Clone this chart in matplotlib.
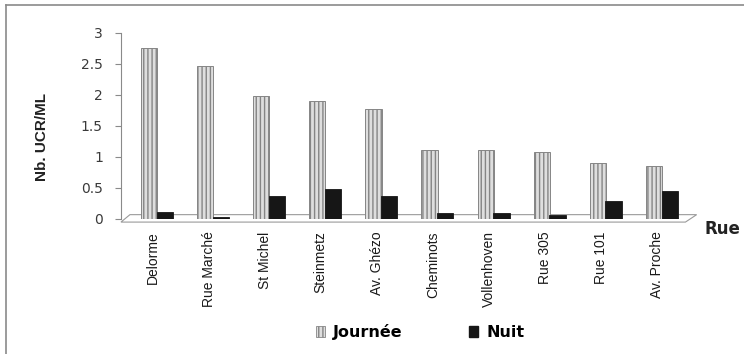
import matplotlib
matplotlib.use("Agg")
import matplotlib.pyplot as plt
from matplotlib.patches import Patch, Polygon
from matplotlib.lines import Line2D
import numpy as np

# data
rues = ["Delorme", "Rue Marché", "St Michel", "Steinmetz", "Av. Ghézo",
        "Cheminots", "Vollenhoven", "Rue 305", "Rue 101", "Av. Proche"]
journee = [2.76, 2.47, 1.98, 1.90, 1.78, 1.12, 1.11, 1.08, 0.90, 0.86]
nuit = [0.12, 0.04, 0.37, 0.49, 0.37, 0.10, 0.09, 0.06, 0.29, 0.45]
yticks = [0, 0.5, 1, 1.5, 2, 2.5, 3]
ytick_labels = ["0", "0.5", "1", "1.5", "2", "2.5", "3"]

fig = plt.figure(figsize=(7.44, 3.54), dpi=100)
ax = fig.add_axes([0.1626, 0.3814, 0.9341 - 0.1626, 0.9068 - 0.3814])

x = np.arange(len(rues))
w = 0.29
ax.bar(x - 0.14, journee, w, color="#dedede", edgecolor="#858585",
       hatch="||||", linewidth=0.7, zorder=3)
ax.bar(x + 0.14, nuit, w, color="#161616", edgecolor="#161616",
       linewidth=0.6, zorder=3)

ax.set_xlim(-0.64, 9.59)
ax.set_ylim(0, 3)

# floor of the pseudo 3d chart
floor = Polygon([(-0.64, -0.05), (9.42, -0.05), (9.62, 0.07), (-0.48, 0.07)],
                closed=True, fill=False, edgecolor="#9a9a9a", linewidth=0.8,
                clip_on=False, zorder=2)
ax.add_patch(floor)

for s in ["top", "right", "bottom"]:
    ax.spines[s].set_visible(False)
ax.spines["left"].set_color("#8a8a8a")
ax.spines["left"].set_linewidth(0.8)

ax.set_yticks(yticks)
ax.set_yticklabels(ytick_labels, fontsize=10, color="#3a3a3a")
ax.tick_params(axis="y", length=4, color="#8a8a8a", pad=9)
ax.set_xticks(x - 0.08)
ax.set_xticklabels(rues, rotation=90, fontsize=10, family="Liberation Sans",
                   color="#1a1a1a")
ax.tick_params(axis="x", length=0, pad=9)

ax.set_ylabel("Nb. UCR/ML", fontsize=11, fontweight="bold",
              family="Liberation Sans", color="#222222")
ax.yaxis.set_label_coords(-0.125, 0.44)

fig.text(704 / 744, 1 - 229 / 354, "Rue", fontsize=12, fontweight="bold",
         ha="left", va="center", color="#222222")

handles = [Patch(facecolor="#dedede", edgecolor="#858585", hatch="||||",
                 linewidth=0.6),
           Patch(facecolor="#161616", edgecolor="#161616")]
fig.legend(handles, ["Journée", "Nuit"], loc="center",
           bbox_to_anchor=(420 / 744, 1 - 332 / 354), ncol=2, frameon=False,
           handlelength=0.55, handleheight=0.7, handletextpad=0.5,
           columnspacing=4.2, prop={"size": 11.5, "weight": "semibold"})

# frame lines of the cropped screenshot
fig.add_artist(Line2D([6 / 744, 1], [1 - 5 / 354, 1 - 5 / 354],
                      color="#8a8a8a", linewidth=1.2))
fig.add_artist(Line2D([6 / 744, 6 / 744], [0, 1 - 5 / 354],
                      color="#8a8a8a", linewidth=1.2))

fig.savefig("out.png", dpi=100)
